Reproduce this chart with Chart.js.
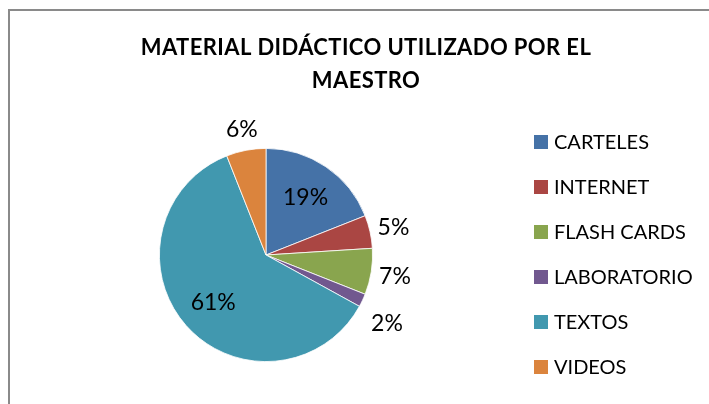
<!DOCTYPE html>
<html>
<head>
<meta charset="utf-8">
<script src="https://cdn.jsdelivr.net/npm/chart.js@4"></script>
<style>
  html, body { margin: 0; padding: 0; background: #fff; overflow: hidden; }
  #marco {
    position: absolute; left: 8px; top: 9px; width: 712px; height: 400px;
    border-left: 2px solid #8a8a8a; border-top: 2px solid #8a8a8a;
  }
  #grafico { display: block; }
</style>
</head>
<body>
<div id="marco"><canvas id="grafico" width="712" height="393"></canvas></div>
<script>
const titulo = ["MATERIAL DIDÁCTICO UTILIZADO POR EL", "MAESTRO"];
const categorias = ["CARTELES", "INTERNET", "FLASH CARDS", "LABORATORIO", "TEXTOS", "VIDEOS"];
const porcentajes = [19, 5, 7, 2, 61, 6];
const colores = ["#4572A7", "#AA4643", "#89A54E", "#71588F", "#4198AF", "#DB843D"];

// titulo centrado sobre todo el grafico (no solo sobre el pastel)
const tituloExcel = {
  id: "tituloExcel",
  afterDraw(chart) {
    const ctx = chart.ctx;
    ctx.save();
    ctx.font = "bold 22px Lato";
    ctx.letterSpacing = "0.4px";
    ctx.fillStyle = "#000";
    ctx.textAlign = "center";
    ctx.textBaseline = "middle";
    titulo.forEach((linea, i) => ctx.fillText(linea, chart.width / 2, 37 + i * 32.5));
    ctx.restore();
  }
};

// etiquetas de porcentaje: dentro de las rebanadas grandes, fuera de las chicas
const etiquetas = {
  id: "etiquetas",
  afterDatasetsDraw(chart, args, opts) {
    const ctx = chart.ctx;
    const arcos = chart.getDatasetMeta(0).data;
    ctx.save();
    ctx.font = "23px Lato";
    ctx.fillStyle = "#000";
    ctx.textAlign = "center";
    ctx.textBaseline = "middle";
    arcos.forEach((arco, i) => {
      const { x, y, startAngle, endAngle, outerRadius } = arco.getProps(["x", "y", "startAngle", "endAngle", "outerRadius"], true);
      const medio = (startAngle + endAngle) / 2 + (opts.giro[i] || 0) * Math.PI / 180;
      const d = porcentajes[i] >= 10 ? outerRadius * 0.66 : outerRadius + opts.fuera[i];
      ctx.fillText(porcentajes[i] + "%", x + Math.cos(medio) * d, y + Math.sin(medio) * d + 1);
    });
    ctx.restore();
  }
};

// leyenda a la derecha, como en Excel
const leyenda = {
  id: "leyenda",
  afterDraw(chart) {
    const ctx = chart.ctx;
    ctx.save();
    ctx.font = "20px Lato";
    ctx.textBaseline = "middle";
    categorias.forEach((cat, i) => {
      const y = 131 + i * 45;
      ctx.fillStyle = colores[i];
      ctx.fillRect(524, y - 7, 14, 14);
      ctx.fillStyle = "#000";
      ctx.fillText(cat, 544, y + 1);
    });
    ctx.restore();
  }
};

new Chart(document.getElementById("grafico"), {
  type: "pie",
  data: {
    labels: categorias,
    datasets: [{
      data: porcentajes,
      backgroundColor: colores,
      borderColor: "#ffffff",
      borderWidth: 0.8
    }]
  },
  options: {
    responsive: false,
    animation: false,
    layout: { padding: { left: 0, right: 200, top: 137, bottom: 42 } },
    plugins: {
      legend: { display: false },
      tooltip: { enabled: false },
      title: { display: false },
      etiquetas: { fuera: [0, 24, 24, 32, 0, 22], giro: [0, 0, 0, 4, 0, 0] }
    }
  },
  plugins: [etiquetas, leyenda, tituloExcel]
});
</script>
</body>
</html>
